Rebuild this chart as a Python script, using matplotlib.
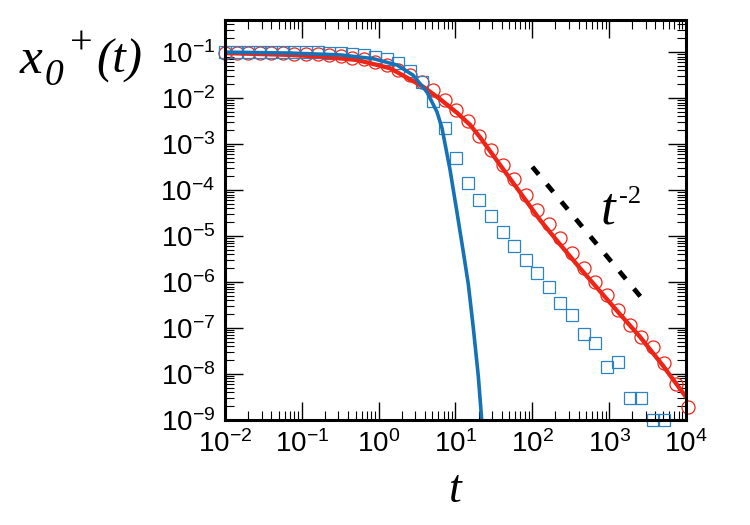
import numpy as np
import matplotlib
matplotlib.use("Agg")
import matplotlib.pyplot as plt
from matplotlib.ticker import LogLocator, FixedFormatter, NullFormatter, FixedLocator

plt.rcParams['mathtext.fontset'] = 'custom'
plt.rcParams['mathtext.rm'] = 'Liberation Serif'
plt.rcParams['mathtext.it'] = 'Liberation Serif:italic'
plt.rcParams['mathtext.sf'] = 'Liberation Sans'
plt.rcParams['font.family'] = ['Liberation Sans', 'DejaVu Sans']

# ---------------- data ----------------
t_markers = np.array([
    0.01, 0.01414, 0.02, 0.02828, 0.04, 0.05657, 0.08, 0.1131, 0.16, 0.2263,
    0.32, 0.4525, 0.64, 0.9051, 1.28, 1.810, 2.56, 3.620, 5.12, 7.241,
    10.24, 14.48, 20.48, 28.96, 40.96, 57.93, 81.92, 115.9, 163.8, 231.7,
    327.7, 463.4, 655.4, 926.8, 1311, 1854, 2621, 3707, 5243, 7414, 10486])

# log10 of circle values (red, open circles)
circles_log = np.array([
    -1.01, -1.01, -1.01, -1.01, -1.01, -1.02, -1.03, -1.04, -1.05, -1.07,
    -1.09, -1.12, -1.15, -1.21, -1.28, -1.38, -1.50, -1.65, -1.83, -2.04,
    -2.26, -2.50, -2.83, -3.13, -3.46, -3.75, -4.11, -4.43, -4.74, -5.05,
    -5.36, -5.70, -5.99, -6.28, -6.61, -6.93, -7.19, -7.42, -7.77, -8.22,
    -8.71])

# log10 of square values (blue, open squares)
squares_log = np.array([
    -1.00, -1.00, -1.00, -1.00, -1.00, -1.00, -1.00, -1.00, -1.00, -1.01,
    -1.02, -1.04, -1.07, -1.10, -1.14, -1.24, -1.41, -1.66, -2.07, -2.65,
    -3.30, -3.84, -4.22, -4.57, -4.91, -5.22, -5.51, -5.81, -6.10, -6.46,
    -6.72, -7.12, -7.32, -7.84, -7.73, -8.53, -8.53, -9.01, -9.01])

# red solid curve (log10 t, log10 x)
red_logt = np.array([-2.0, -1.154, -0.724, -0.282, 0.148, 0.577, 0.798, 1.020,
                     1.189, 1.319, 1.579, 1.840, 2.100, 2.360, 2.621, 2.881,
                     3.141, 3.401, 3.701, 4.000])
red_logx = np.array([-1.02, -1.06, -1.10, -1.17, -1.35, -1.75, -2.02, -2.32,
                     -2.58, -2.85, -3.45, -4.05, -4.65, -5.18, -5.70, -6.20,
                     -6.70, -7.19, -7.82, -8.50])

# blue solid curve (log10 t, log10 x)
blue_logt = np.array([-2.0, -1.154, -0.503, -0.074, 0.239, 0.447, 0.629, 0.759,
                      0.824, 0.928, 1.016, 1.102, 1.167, 1.232, 1.297, 1.341])
blue_logx = np.array([-1.00, -1.02, -1.06, -1.14, -1.28, -1.50, -1.87, -2.30,
                      -2.65, -3.55, -4.45, -5.35, -6.05, -7.00, -8.05, -9.00])

# t^-2 guide
guide_t = [100, 3000]
guide_x = [3.2e-4, 3.5e-7]

xticks = [1e-2, 1e-1, 1e0, 1e1, 1e2, 1e3, 1e4]
xtick_labels = ['-2', '-1', '0', '1', '2', '3', '4']
yticks = [1e-9, 1e-8, 1e-7, 1e-6, 1e-5, 1e-4, 1e-3, 1e-2, 1e-1]
ytick_labels = ['-9', '-8', '-7', '-6', '-5', '-4', '-3', '-2', '-1']

RED = '#ee2416'
BLUE = '#1572b6'
BLUE_SQ = '#2a84c4'

# ---------------- figure ----------------
W, H = 750, 525
fig = plt.figure(figsize=(7.5, 5.25), dpi=100)
ax = fig.add_axes([225 / W, 105 / H, 461 / W, 400 / H])
ax.set_xscale('log')
ax.set_yscale('log')

ax.plot(t_markers, 10.0 ** circles_log, 'o', mfc='none', mec=RED, ms=9.4,
        mew=0.9, clip_on=False, zorder=3)
ax.plot(t_markers[:len(squares_log)], 10.0 ** squares_log, 's', mfc='none',
        mec=BLUE_SQ, ms=9.2, mew=0.9, clip_on=False, zorder=3.2)
ax.plot(10.0 ** red_logt, 10.0 ** red_logx, '-', color=RED, lw=3.1, zorder=4)
ax.plot(10.0 ** blue_logt, 10.0 ** blue_logx, '-', color=BLUE, lw=2.6, zorder=5)
ax.plot(guide_t, guide_x, color='black', lw=3.4, dashes=(2.1, 2.7),
        solid_capstyle='butt', zorder=4)

ax.set_xlim(1e-2, 1e4)
ax.set_ylim(1e-9, 0.5)

ax.xaxis.set_major_locator(FixedLocator(xticks))
ax.xaxis.set_major_formatter(FixedFormatter(
    [r'$\mathsf{10^{%s}}$' % s for s in xtick_labels]))
ax.yaxis.set_major_locator(FixedLocator(yticks))
ax.yaxis.set_major_formatter(FixedFormatter(
    [r'$\mathsf{10^{%s}}$' % s for s in ytick_labels]))
ax.xaxis.set_minor_locator(LogLocator(base=10, subs=np.arange(2, 10), numticks=30))
ax.yaxis.set_minor_locator(LogLocator(base=10, subs=np.arange(2, 10), numticks=30))
ax.xaxis.set_minor_formatter(NullFormatter())
ax.yaxis.set_minor_formatter(NullFormatter())

ax.tick_params(which='both', direction='in', top=True, right=True)
ax.tick_params(which='major', length=13, width=1.0, labelsize=20)
ax.tick_params(which='minor', length=6.5, width=0.8)
ax.tick_params(axis='x', which='major', pad=7.5)
ax.tick_params(axis='y', which='major', pad=7)
for sp in ax.spines.values():
    sp.set_linewidth(2.2)
    sp.set_zorder(6)

# x label
fig.text(456 / W, 1 - 490 / H, r'$t$', fontsize=33, ha='center', va='center')

# y label  x_0^+(t), built from pieces
serif = 'Liberation Serif'
fig.text(20 / W, 1 - 73 / H, 'x', fontsize=37, family=serif, style='italic',
         ha='left', va='baseline')
fig.text(45 / W, 1 - 85 / H, '0', fontsize=27, family=serif, style='italic',
         ha='left', va='baseline')
fig.text(70 / W, 1 - 53 / H, '+', fontsize=29, family=serif,
         ha='left', va='baseline')
fig.text(96 / W, 1 - 73 / H, '(t)', fontsize=35, family=serif, style='italic',
         ha='left', va='baseline')

# t^-2 annotation
ax.text(0.831, 0.4925, 't', transform=ax.transAxes, fontsize=38,
        family=serif, style='italic', ha='center', va='baseline')
ax.text(0.854, 0.5425, '-2', transform=ax.transAxes, fontsize=19,
        family=serif, ha='left', va='baseline')

fig.savefig('out.png', dpi=100)
